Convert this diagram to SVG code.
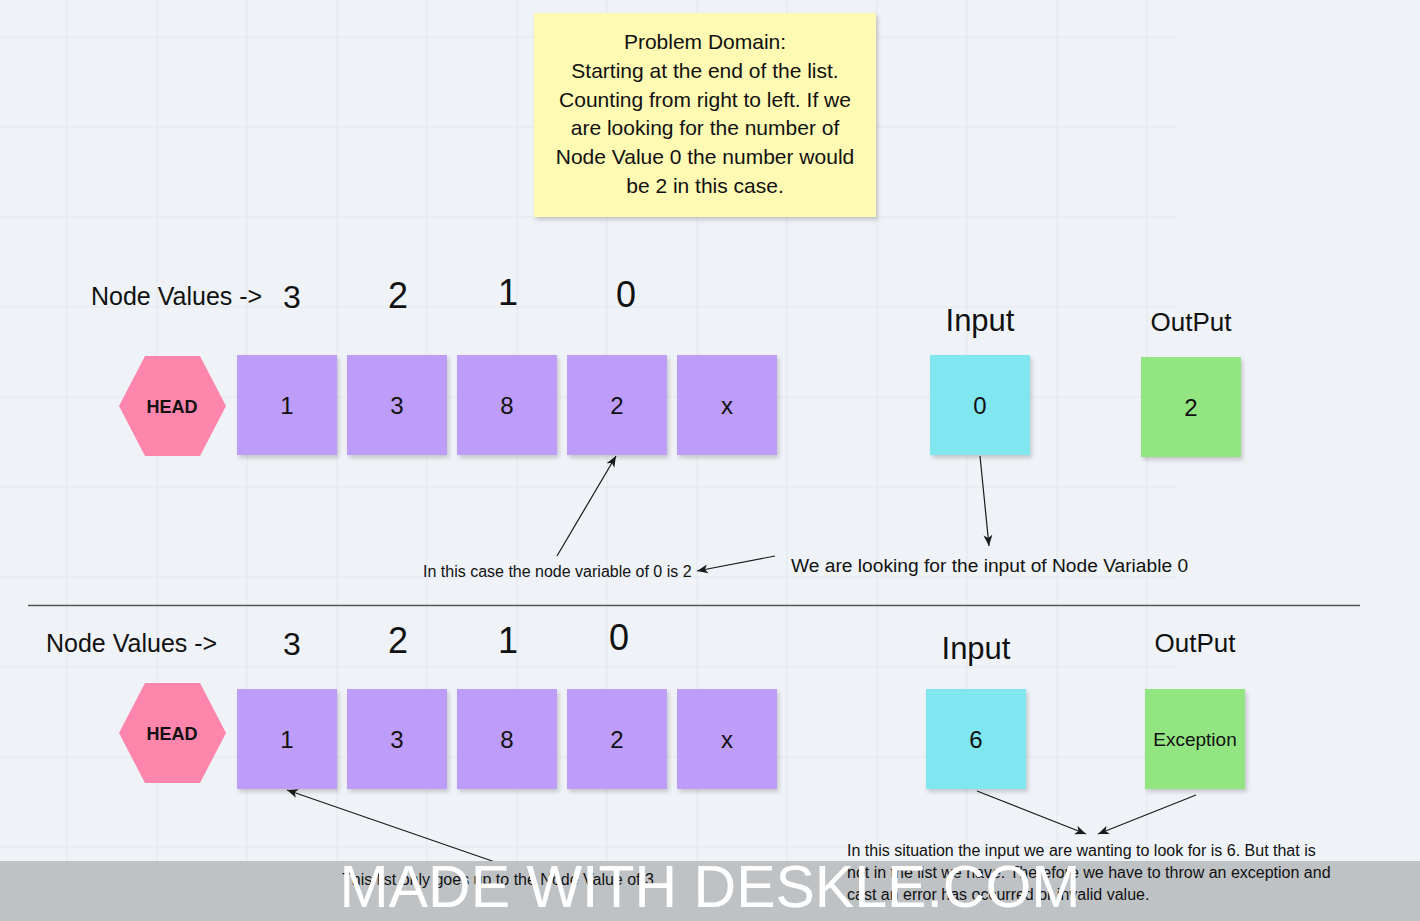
<svg xmlns="http://www.w3.org/2000/svg" width="1420" height="921" viewBox="0 0 1420 921">
<defs>
<style>
text{font-family:"Liberation Sans",Arial,sans-serif;fill:#111;}
.c{text-anchor:middle;}
.grid{stroke:#e2e7ec;stroke-width:1;}
.purple{fill:#bd9df9;}
.cyan{fill:#80e7f1;}
.green{fill:#93e582;}
.yellow{fill:#fef9b3;}
.pink{fill:#fe86ad;}
.edge{stroke:#1a1a1a;stroke-width:1.2;fill:none;marker-end:url(#arr);}
.box{font-size:24px;}
.lbl{font-size:25px;}
.num{font-size:36px;}
.nt{font-size:21px;}
</style>
<marker id="arr" markerWidth="12" markerHeight="10" refX="11" refY="5" orient="auto" markerUnits="userSpaceOnUse">
<path d="M0,0.5 L11,5 L0,9.5 L3,5 Z" fill="#1a1a1a"/>
</marker>
<filter id="sh" x="-10%" y="-10%" width="130%" height="130%">
<feDropShadow dx="2" dy="3" stdDeviation="2" flood-color="#000" flood-opacity="0.18"/>
</filter>
</defs>
<rect x="0" y="0" width="1420" height="921" fill="#eff3f7"/>
<g id="grid" class="grid">
<line x1="67" y1="0" x2="67" y2="921"/><line x1="157" y1="0" x2="157" y2="921"/><line x1="247" y1="0" x2="247" y2="921"/><line x1="337" y1="0" x2="337" y2="921"/><line x1="427" y1="0" x2="427" y2="921"/><line x1="517" y1="0" x2="517" y2="921"/><line x1="607" y1="0" x2="607" y2="921"/><line x1="697" y1="0" x2="697" y2="921"/><line x1="787" y1="0" x2="787" y2="921"/><line x1="877" y1="0" x2="877" y2="921"/><line x1="967" y1="0" x2="967" y2="921"/><line x1="1057" y1="0" x2="1057" y2="921"/><line x1="1147" y1="0" x2="1147" y2="921"/>
<line x1="0" y1="37" x2="1177" y2="37"/><line x1="0" y1="127" x2="1177" y2="127"/><line x1="0" y1="217" x2="1177" y2="217"/><line x1="0" y1="307" x2="1177" y2="307"/><line x1="0" y1="397" x2="1177" y2="397"/><line x1="0" y1="487" x2="1177" y2="487"/><line x1="0" y1="577" x2="1177" y2="577"/><line x1="0" y1="667" x2="1177" y2="667"/><line x1="0" y1="757" x2="1177" y2="757"/><line x1="0" y1="847" x2="1177" y2="847"/>
</g>

<g id="note">
<rect class="yellow" x="534" y="13" width="342" height="204" filter="url(#sh)"/>
<text class="c nt" x="705" y="49">Problem Domain:</text>
<text class="c nt" x="705" y="78">Starting at the end of the list.</text>
<text class="c nt" x="705" y="107">Counting from right to left. If we</text>
<text class="c nt" x="705" y="135">are looking for the number of</text>
<text class="c nt" x="705" y="164">Node Value 0 the number would</text>
<text class="c nt" x="705" y="193">be 2 in this case.</text>
</g>

<g id="top-labels">
<text class="lbl" x="91" y="305">Node Values -&gt;</text>
<text class="c" x="292" y="308" font-size="32">3</text>
<text class="c num" x="398" y="308">2</text>
<text class="c num" x="508" y="305">1</text>
<text class="c num" x="626" y="307">0</text>
</g>

<g id="head1">
<polygon class="pink" points="119,406 145,356 200,356 226,406 200,456 145,456"/>
<text class="c" x="172" y="413" font-size="18" font-weight="bold">HEAD</text>
</g>
<g id="n1a"><rect class="purple" x="237" y="355" width="100" height="100" filter="url(#sh)"/><text class="c box" x="287" y="414">1</text></g>
<g id="n1b"><rect class="purple" x="347" y="355" width="100" height="100" filter="url(#sh)"/><text class="c box" x="397" y="414">3</text></g>
<g id="n1c"><rect class="purple" x="457" y="355" width="100" height="100" filter="url(#sh)"/><text class="c box" x="507" y="414">8</text></g>
<g id="n1d"><rect class="purple" x="567" y="355" width="100" height="100" filter="url(#sh)"/><text class="c box" x="617" y="414">2</text></g>
<g id="n1e"><rect class="purple" x="677" y="355" width="100" height="100" filter="url(#sh)"/><text class="c box" x="727" y="414">x</text></g>

<g id="input1">
<text class="c" x="980" y="331" font-size="31">Input</text>
<rect class="cyan" x="930" y="355" width="100" height="100" filter="url(#sh)"/>
<text class="c box" x="980" y="414">0</text>
</g>
<g id="output1">
<text class="c" x="1191" y="331" font-size="26">OutPut</text>
<rect class="green" x="1141" y="357" width="100" height="100" filter="url(#sh)"/>
<text class="c box" x="1191" y="416">2</text>
</g>

<g id="note-top-left"><text x="423" y="577" font-size="16">In this case the node variable of 0 is 2</text></g>
<g id="note-top-right"><text x="791" y="572" font-size="19.2">We are looking for the input of Node Variable 0</text></g>

<g id="divider"><line x1="28" y1="605.5" x2="1360" y2="605.5" stroke="#555" stroke-width="1.5"/></g>

<g id="bottom-labels">
<text class="lbl" x="46" y="652">Node Values -&gt;</text>
<text class="c" x="292" y="655" font-size="32">3</text>
<text class="c num" x="398" y="653">2</text>
<text class="c num" x="508" y="653">1</text>
<text class="c num" x="619" y="650">0</text>
</g>

<g id="head2">
<polygon class="pink" points="119,733 145,683 200,683 226,733 200,783 145,783"/>
<text class="c" x="172" y="740" font-size="18" font-weight="bold">HEAD</text>
</g>
<g id="n2a"><rect class="purple" x="237" y="689" width="100" height="100" filter="url(#sh)"/><text class="c box" x="287" y="748">1</text></g>
<g id="n2b"><rect class="purple" x="347" y="689" width="100" height="100" filter="url(#sh)"/><text class="c box" x="397" y="748">3</text></g>
<g id="n2c"><rect class="purple" x="457" y="689" width="100" height="100" filter="url(#sh)"/><text class="c box" x="507" y="748">8</text></g>
<g id="n2d"><rect class="purple" x="567" y="689" width="100" height="100" filter="url(#sh)"/><text class="c box" x="617" y="748">2</text></g>
<g id="n2e"><rect class="purple" x="677" y="689" width="100" height="100" filter="url(#sh)"/><text class="c box" x="727" y="748">x</text></g>

<g id="input2">
<text class="c" x="976" y="659" font-size="31">Input</text>
<rect class="cyan" x="926" y="689" width="100" height="100" filter="url(#sh)"/>
<text class="c box" x="976" y="748">6</text>
</g>
<g id="output2">
<text class="c" x="1195" y="652" font-size="26">OutPut</text>
<rect class="green" x="1145" y="689" width="100" height="100" filter="url(#sh)"/>
<text class="c" x="1195" y="746" font-size="19">Exception</text>
</g>

<g id="connectors">
<line class="edge" x1="557" y1="556" x2="616" y2="456"/>
<line class="edge" x1="775" y1="556" x2="697" y2="571"/>
<line class="edge" x1="980" y1="456" x2="989" y2="546"/>
<line class="edge" x1="977" y1="791" x2="1086" y2="834"/>
<line class="edge" x1="1196" y1="795" x2="1098" y2="834"/>
<line class="edge" x1="495" y1="862" x2="287" y2="790"/>
</g>

<g id="watermark-band"><rect x="0" y="861" width="1420" height="60" fill="#bfc2c5"/></g>

<g id="note-bottom-left"><text x="342" y="885" font-size="16">This list only goes up to the Node Value of 3</text></g>
<g id="note-bottom-right">
<text x="847" y="856" font-size="16">In this situation the input we are wanting to look for is 6. But that is</text>
<text x="847" y="878" font-size="16">not in the list we have.  Therefore we have to throw an exception and</text>
<text x="847" y="900" font-size="16">cast an error has occurred or invalid value.</text>
</g>

<g id="watermark"><text class="c" x="710" y="907" font-size="59" style="fill:#ffffff">MADE WITH DESKLE.COM</text></g>
</svg>
